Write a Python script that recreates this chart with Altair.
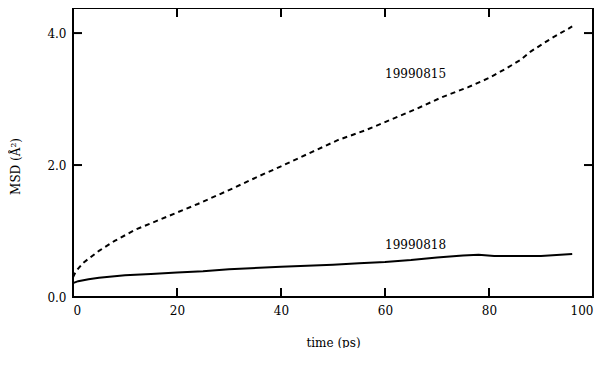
import altair as alt
import pandas as pd

# Series 19990815 (dashed)
t_a = [0, 0.5, 1, 2, 3, 5, 8, 12, 16, 20, 24, 30, 36, 40, 46, 51, 56, 60, 66, 71, 76, 80, 83, 86, 88, 92, 96]
msd_a = [0.30, 0.38, 0.43, 0.52, 0.58, 0.70, 0.85, 1.02, 1.15, 1.28, 1.41, 1.62, 1.84, 1.98, 2.20, 2.38, 2.52, 2.65, 2.85, 3.03, 3.18, 3.32, 3.45, 3.59, 3.72, 3.92, 4.10]

# Series 19990818 (solid)
t_b = [0, 1, 3, 5, 10, 15, 20, 25, 30, 40, 50, 55, 60, 65, 70, 75, 78, 81, 85, 90, 96]
msd_b = [0.21, 0.24, 0.27, 0.29, 0.33, 0.35, 0.37, 0.39, 0.42, 0.46, 0.49, 0.51, 0.53, 0.56, 0.60, 0.63, 0.64, 0.62, 0.62, 0.62, 0.65]

label_text = ["19990815", "19990818"]
label_t = [60, 60]
label_y = [3.38, 0.79]

x_ticks = [0, 20, 40, 60, 80, 100]
y_ticks = [0.0, 2.0, 4.0]

W, H = 520, 289
FONT = "DejaVu Serif"

da = pd.DataFrame({"t": t_a, "msd": msd_a})
db = pd.DataFrame({"t": t_b, "msd": msd_b})
dl = pd.DataFrame({"label": label_text, "t": label_t, "msd": label_y})
dxt = pd.DataFrame({"t": x_ticks})
dyt = pd.DataFrame({"msd": y_ticks})

xs = alt.Scale(domain=[0, 100], nice=False, zero=False)
ys = alt.Scale(domain=[0, 4.38], nice=False, zero=False)

x_axis = alt.Axis(values=x_ticks, ticks=False, domain=False, grid=False, labelPadding=8,
                  title="time (ps)", titleX=W / 2, titleY=45, titleBaseline="middle",
                  titleAlign="center", titleFontWeight="normal")
y_axis = alt.Axis(values=y_ticks, format=".1f", ticks=False, domain=False, grid=False,
                  labelPadding=7, title="MSD (Å²)", titleX=-58, titleY=H - 131,
                  titleAngle=-90, titleAlign="center", titleBaseline="middle",
                  titleFontWeight="normal")

line_a = alt.Chart(da).mark_line(color="black", strokeWidth=2, strokeDash=[5, 4]).encode(
    x=alt.X("t:Q", scale=xs, axis=x_axis),
    y=alt.Y("msd:Q", scale=ys, axis=y_axis),
)
line_b = alt.Chart(db).mark_line(color="black", strokeWidth=2).encode(
    x=alt.X("t:Q", scale=xs),
    y=alt.Y("msd:Q", scale=ys),
)
labels = alt.Chart(dl).mark_text(align="left", baseline="middle", font=FONT, fontSize=12,
                                 color="black").encode(
    x=alt.X("t:Q", scale=xs), y=alt.Y("msd:Q", scale=ys), text="label:N"
)

tick_len = 9
xt_bottom = alt.Chart(dxt).mark_rule(color="black", strokeWidth=2).encode(
    x=alt.X("t:Q", scale=xs), y=alt.value(H), y2=alt.value(H - tick_len))
xt_top = alt.Chart(dxt).mark_rule(color="black", strokeWidth=2).encode(
    x=alt.X("t:Q", scale=xs), y=alt.value(0), y2=alt.value(tick_len))
yt_left = alt.Chart(dyt).mark_rule(color="black", strokeWidth=2).encode(
    y=alt.Y("msd:Q", scale=ys), x=alt.value(0), x2=alt.value(tick_len))
yt_right = alt.Chart(dyt).mark_rule(color="black", strokeWidth=2).encode(
    y=alt.Y("msd:Q", scale=ys), x=alt.value(W), x2=alt.value(W - tick_len))

chart = alt.layer(line_a, line_b, labels, xt_bottom, xt_top, yt_left, yt_right).properties(
    width=W, height=H,
    autosize=alt.AutoSizeParams(type="none"),
    padding={"left": 65, "top": 0, "right": 2, "bottom": 51},
    background="white",
).configure_view(
    stroke="black", strokeWidth=2
).configure_axis(
    labelFont=FONT, labelFontSize=12, labelColor="black",
    titleFont=FONT, titleFontSize=12, titleColor="black",
)

chart.save("out.html", embed_options={"renderer": "svg", "actions": False})
